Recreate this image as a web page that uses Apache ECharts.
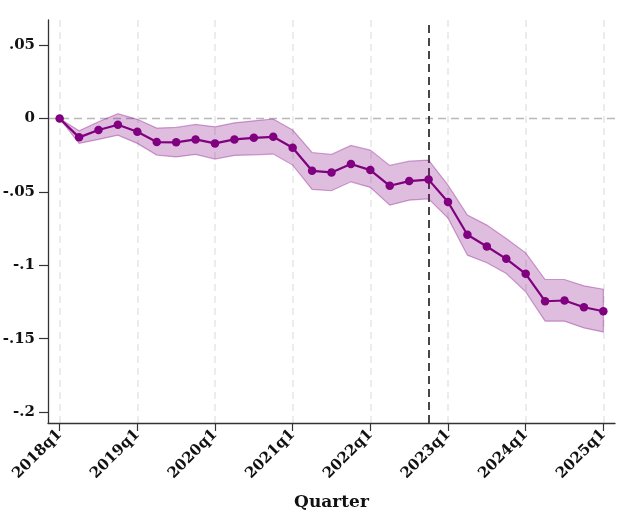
<!DOCTYPE html>
<html><head><meta charset="utf-8">
<script src="https://cdn.jsdelivr.net/npm/echarts@6/dist/echarts.min.js"></script>
<style>html,body{margin:0;padding:0;background:#fff}#c{width:620px;height:512px}</style>
</head><body><div id="c"></div>
<script>
const quarters = ['2018q1','2018q2','2018q3','2018q4','2019q1','2019q2','2019q3','2019q4',
  '2020q1','2020q2','2020q3','2020q4','2021q1','2021q2','2021q3','2021q4',
  '2022q1','2022q2','2022q3','2022q4','2023q1','2023q2','2023q3','2023q4',
  '2024q1','2024q2','2024q3','2024q4','2025q1'];
const estimate = [0,-0.0128,-0.0078,-0.0042,-0.0090,-0.0160,-0.0162,-0.0142,
  -0.0169,-0.0142,-0.0131,-0.0124,-0.0199,-0.0356,-0.0367,-0.0310,
  -0.0351,-0.0458,-0.0426,-0.0416,-0.0569,-0.0792,-0.0872,-0.0956,
  -0.1058,-0.1245,-0.1240,-0.1286,-0.1313];
const upper = [0,-0.0083,-0.0022,0.0033,-0.0005,-0.0065,-0.0060,-0.0040,
  -0.0056,-0.0029,-0.0015,-0.0003,-0.0078,-0.0231,-0.0244,-0.0183,
  -0.0215,-0.0319,-0.0290,-0.0283,-0.0454,-0.0658,-0.0726,-0.0817,
  -0.0915,-0.1097,-0.1097,-0.1140,-0.1163];
const lower = [0,-0.0169,-0.0142,-0.0113,-0.0169,-0.0249,-0.0261,-0.0244,
  -0.0276,-0.0251,-0.0247,-0.0242,-0.0317,-0.0483,-0.0492,-0.0431,
  -0.0469,-0.0590,-0.0556,-0.0547,-0.0679,-0.0931,-0.0983,-0.1056,
  -0.1181,-0.1381,-0.1381,-0.1427,-0.1454];
const xTickIdx = [0,4,8,12,16,20,24,28];
const yTicks = [-0.2,-0.15,-0.1,-0.05,0,0.05];
const eventIdx = 19;

const FONT = 'DejaVu Serif';
const chart = echarts.init(document.getElementById('c'), null, {renderer:'canvas'});
function yFmt(v){
  if (Math.abs(v) < 1e-9) return '0';
  const s = String(Math.abs(+v.toFixed(4))).replace(/^0/, '');
  return (v < 0 ? '-' : '') + s;
}
chart.setOption({
  animation:false,
  backgroundColor:'#fff',
  grid:{left:48, right:5, top:20, bottom:89, containLabel:false, outerBoundsMode:'none'},
  xAxis:{
    type:'value', min:-0.6, max:28.6,
    name:'Quarter', nameLocation:'middle', nameGap:71,
    nameTextStyle:{fontFamily:FONT, fontWeight:'bold', fontSize:17, color:'#111'},
    axisLine:{show:true, onZero:false, lineStyle:{color:'#333', width:1.3}},
    axisTick:{show:true, length:8, customValues:xTickIdx, lineStyle:{color:'#333', width:1.2}},
    axisLabel:{customValues:xTickIdx, rotate:45, margin:9, fontFamily:FONT, fontWeight:'bold',
      fontSize:15, color:'#111', formatter:function(v){return quarters[Math.round(v)];}},
    splitLine:{show:false}
  },
  yAxis:{
    type:'value', min:-0.2075, max:0.0672,
    axisLine:{show:true, onZero:false, lineStyle:{color:'#333', width:1.3}},
    axisTick:{show:true, length:9, customValues:yTicks, lineStyle:{color:'#333', width:1.2}},
    axisLabel:{customValues:yTicks, margin:13, fontFamily:FONT, fontWeight:'bold', fontSize:15,
      color:'#111', formatter:yFmt},
    splitLine:{show:false}
  },
  series:[
    {
      type:'line', data:[], silent:true, z:1,
      markLine:{silent:true, symbol:'none', label:{show:false}, animation:false, z:0,
        data: xTickIdx.map(function(i){return {xAxis:i, lineStyle:{color:'#e6e6e6', width:1.5, type:[7,5]}};})
          .concat([{yAxis:0, lineStyle:{color:'#b8b8b8', width:1.4, type:[8,5]}}])
      }
    },
    {
      type:'custom', z:2, silent:true,
      data: quarters.map(function(q,i){return [i, upper[i], lower[i]];}),
      encode:{x:0, y:[1,2]},
      renderItem:function(params, api){
        if (params.dataIndex !== 0) return;
        const pts = [];
        for (let i=0;i<upper.length;i++) pts.push(api.coord([i, upper[i]]));
        for (let i=lower.length-1;i>=0;i--) pts.push(api.coord([i, lower[i]]));
        return {type:'polygon', shape:{points:pts},
          style:{fill:'rgba(128,0,128,0.26)', stroke:'rgba(128,0,128,0.35)', lineWidth:1.2}};
      }
    },
    {
      type:'line', data:[], silent:true, z:2,
      markLine:{silent:true, symbol:'none', label:{show:false}, animation:false, z:2,
        data:[{xAxis:eventIdx, lineStyle:{color:'#1a1a1a', width:1.6, type:[8,5]}}]}
    },
    {
      type:'line', z:4, silent:true,
      data: estimate.map(function(v,i){return [i, v];}),
      symbol:'circle', symbolSize:8.5,
      itemStyle:{color:'#800080'},
      lineStyle:{color:'#800080', width:2.2}
    }
  ]
});
</script></body></html>
